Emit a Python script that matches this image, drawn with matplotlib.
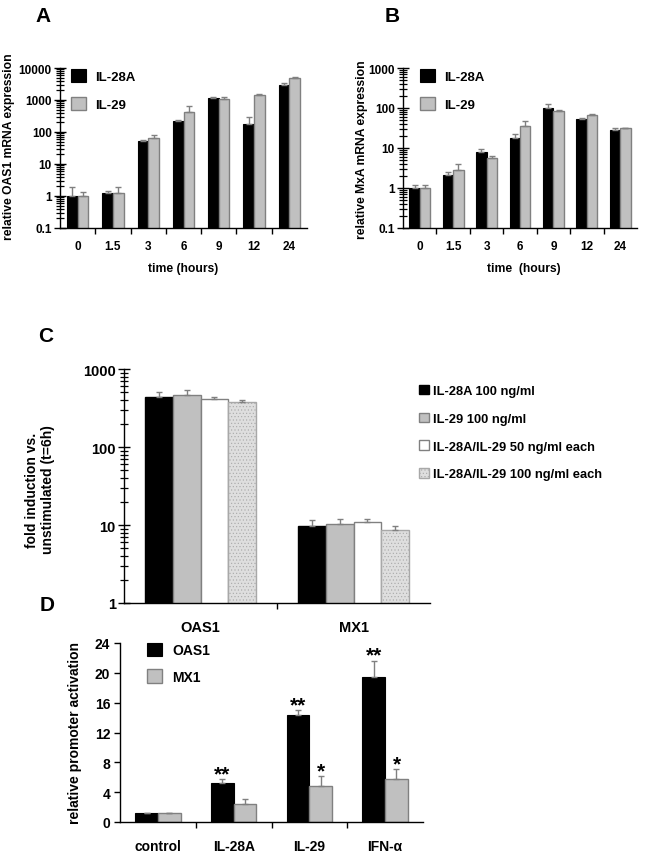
import numpy as np
import matplotlib
matplotlib.use('Agg')
import matplotlib.pyplot as plt
from matplotlib.ticker import FixedLocator, NullFormatter

# Panel A: OAS1 mRNA time course
hours = ['0', '1.5', '3', '6', '9', '12', '24']
oas1_il28a = [1.0, 1.2, 52, 224, 1140, 180, 3030]
oas1_il28a_err = [0.85, 0.2, 4, 16, 60, 105, 300]
oas1_il29 = [1.0, 1.2, 65, 415, 1085, 1440, 5030]
oas1_il29_err = [0.35, 0.75, 15, 215, 115, 140, 270]

# Panel B: MxA mRNA time course
mxa_il28a = [1.0, 2.1, 8.1, 18, 100, 52.6, 29]
mxa_il28a_err = [0.2, 0.35, 1.5, 4, 24, 2.5, 2.5]
mxa_il29 = [1.0, 2.85, 5.6, 35, 83, 67, 32]
mxa_il29_err = [0.2, 1.1, 0.7, 11, 7, 4, 0.5]

# Panel C: fold induction at t=6h
genes = ['OAS1', 'MX1']
c_labels = ['IL-28A 100 ng/ml', 'IL-29 100 ng/ml',
            'IL-28A/IL-29 50 ng/ml each', 'IL-28A/IL-29 100 ng/ml each']
c_il28a = [444, 9.8]
c_il28a_err = [67, 1.7]
c_il29 = [466, 10.2]
c_il29_err = [66, 1.7]
c_mix50 = [416, 11.0]
c_mix50_err = [28, 0.9]
c_mix100 = [375, 8.75]
c_mix100_err = [30, 0.85]

# Panel D: promoter activation
stimuli = ['control', 'IL-28A', 'IL-29', 'IFN-α']
d_oas1 = [1.15, 5.2, 14.35, 19.45]
d_oas1_err = [0.1, 0.5, 0.7, 2.2]
d_mx1 = [1.15, 2.4, 4.85, 5.75]
d_mx1_err = [0.1, 0.75, 1.35, 1.35]
d_oas1_sig = ['', '**', '**', '**']
d_mx1_sig = ['', '', '*', '*']

plt.rcParams['font.family'] = ['Liberation Sans', 'DejaVu Sans']
plt.rcParams['font.weight'] = 'bold'
plt.rcParams['hatch.linewidth'] = 0.4

W, H = 648, 854
fig = plt.figure(figsize=(W / 100, H / 100), dpi=100)


def px_axes(left, top, right, bottom):
    return fig.add_axes([left / W, 1 - bottom / H, (right - left) / W, (bottom - top) / H])


def px(x, y):
    return x / W, 1 - y / H


BLACK = '#000000'
GRAY = '#c0c0c0'
EDGE = '#808080'
ERR = '#808080'
ekw = dict(ecolor=ERR, capsize=2.5, elinewidth=1, capthick=1)


def style_axes(ax, n, fontsize, stretch=1.0):
    for s in ['top', 'right']:
        ax.spines[s].set_visible(False)
    ax.spines['left'].set_linewidth(1)
    ax.spines['bottom'].set_linewidth(1)
    ax.set_xlim(-0.5, n - 0.5)
    ax.set_xticks(np.arange(n))
    ax.xaxis.set_minor_locator(FixedLocator(np.arange(n - 1) + 0.5))
    ax.tick_params(axis='x', which='major', length=0, pad=9)
    ax.tick_params(axis='x', which='minor', length=4, direction='out', width=1)
    for lab in ax.get_xticklabels() + ax.get_yticklabels():
        lab.set_fontsize(fontsize)
        lab.set_fontweight('bold')


def log_y(ax, lo_exp, hi_exp):
    ax.set_yscale('log')
    ax.set_ylim(10.0 ** lo_exp, 10.0 ** hi_exp)
    decades = [10.0 ** e for e in range(lo_exp, hi_exp + 1)]
    ax.yaxis.set_major_locator(FixedLocator(decades))
    ax.set_yticklabels([('%g' % d) for d in decades])
    minors = [m * 10.0 ** e for e in range(lo_exp, hi_exp) for m in range(2, 10)]
    ax.yaxis.set_minor_locator(FixedLocator(minors))
    ax.yaxis.set_minor_formatter(NullFormatter())
    ax.tick_params(axis='y', which='major', length=8, direction='inout', width=1, pad=2)
    ax.tick_params(axis='y', which='minor', left=True, length=6, direction='inout', width=0.9)


def pair_bars(ax, a, a_err, b, b_err, width):
    x = np.arange(len(a))
    ax.bar(x - width / 2, a, width, color=BLACK, edgecolor=BLACK, linewidth=0.8,
           yerr=[np.zeros(len(a)), a_err], error_kw=ekw, label='IL-28A', zorder=2)
    ax.bar(x + width / 2, b, width, color=GRAY, edgecolor=EDGE, linewidth=1,
           yerr=[np.zeros(len(b)), b_err], error_kw=ekw, label='IL-29', zorder=2)


def square_legend(ax, anchor, fontsize, hsize, spacing, pad=0.7):
    return ax.legend(loc='upper left', bbox_to_anchor=px(*anchor), bbox_transform=fig.transFigure,
                     frameon=False, borderpad=0, borderaxespad=0,
                     handlelength=hsize, handleheight=hsize, handletextpad=pad,
                     labelspacing=spacing, prop=dict(weight='bold', size=fontsize))


# ---- Panel A ----
axA = px_axes(60, 69, 307, 229)
pair_bars(axA, oas1_il28a, oas1_il28a_err, oas1_il29, oas1_il29_err, 0.3)
axA.set_xticks(np.arange(len(hours)))
axA.set_xticklabels(hours)
log_y(axA, -1, 4)
style_axes(axA, len(hours), 8.5)
square_legend(axA, (71, 70), 9.5, 1.15, 1.05)
fig.text(*px(9, 147), 'relative OAS1 mRNA expression', rotation=90, ha='center', va='center',
         fontsize=8.7, fontweight='bold')
fig.text(*px(183, 269), 'time (hours)', ha='center', va='center', fontsize=8.7, fontweight='bold')
fig.text(*px(43, 17), 'A', ha='center', va='center', fontsize=15, fontweight='bold')

# ---- Panel B ----
axB = px_axes(403, 69, 637, 229)
pair_bars(axB, mxa_il28a, mxa_il28a_err, mxa_il29, mxa_il29_err, 0.31)
axB.set_xticks(np.arange(len(hours)))
axB.set_xticklabels(hours)
log_y(axB, -1, 3)
style_axes(axB, len(hours), 8.5)
square_legend(axB, (420, 70), 9.5, 1.15, 1.05)
fig.text(*px(362, 150), 'relative MxA mRNA expression', rotation=90, ha='center', va='center',
         fontsize=8.7, fontweight='bold')
fig.text(*px(524, 269), 'time  (hours)', ha='center', va='center', fontsize=8.7, fontweight='bold')
fig.text(*px(392, 17), 'B', ha='center', va='center', fontsize=15, fontweight='bold')

# ---- Panel C ----
axC = px_axes(124, 370, 430, 604)
xc = np.arange(len(genes))
wc = 0.18
c_series = [
    (c_il28a, c_il28a_err, dict(color=BLACK, edgecolor=BLACK)),
    (c_il29, c_il29_err, dict(color=GRAY, edgecolor=EDGE)),
    (c_mix50, c_mix50_err, dict(color='white', edgecolor=EDGE)),
    (c_mix100, c_mix100_err, dict(color='#dedede', edgecolor='#a8a8a8', hatch='.....')),
]
for i, (vals, errs, st) in enumerate(c_series):
    axC.bar(xc + (i - 1.5) * wc, vals, wc, linewidth=1, label=c_labels[i],
            yerr=[np.zeros(len(vals)), errs], error_kw=ekw, zorder=2, **st)
axC.set_xticks(xc)
axC.set_xticklabels(genes)
log_y(axC, 0, 3)
style_axes(axC, len(genes), 10.5)
axC.tick_params(axis='x', which='major', pad=12)
square_legend(axC, (419, 386), 9.3, 0.75, 1.2, pad=0.3)
fig.text(*px(40, 490), 'fold induction vs.\nunstimulated (t=6h)', rotation=90, ha='center',
         va='center', fontsize=10, fontweight='bold', linespacing=1.25)
fig.text(*px(46, 337), 'C', ha='center', va='center', fontsize=15, fontweight='bold')

# ---- Panel D ----
axD = px_axes(120, 644, 423, 823)
xd = np.arange(len(stimuli))
wd = 0.3
axD.bar(xd - wd / 2, d_oas1, wd, color=BLACK, edgecolor=BLACK, linewidth=0.8, label='OAS1',
        yerr=[np.zeros(len(d_oas1)), d_oas1_err], error_kw=ekw, zorder=2)
axD.bar(xd + wd / 2, d_mx1, wd, color=GRAY, edgecolor=EDGE, linewidth=1, label='MX1',
        yerr=[np.zeros(len(d_mx1)), d_mx1_err], error_kw=ekw, zorder=2)
for i in range(len(stimuli)):
    if d_oas1_sig[i]:
        axD.annotate(d_oas1_sig[i], xy=(xd[i] - wd / 2, d_oas1[i] + d_oas1_err[i]), xytext=(0, -3),
                     textcoords='offset points', ha='center', va='bottom', fontsize=15, fontweight='bold')
    if d_mx1_sig[i]:
        axD.annotate(d_mx1_sig[i], xy=(xd[i] + wd / 2, d_mx1[i] + d_mx1_err[i]), xytext=(0, -3),
                     textcoords='offset points', ha='center', va='bottom', fontsize=15, fontweight='bold')
axD.set_ylim(0, 24)
axD.set_yticks([0, 4, 8, 12, 16, 20, 24])
axD.set_xticks(xd)
axD.set_xticklabels(stimuli)
style_axes(axD, len(stimuli), 10)
axD.tick_params(axis='y', length=4, direction='out', width=1, pad=3)
axD.tick_params(axis='x', which='major', pad=12)
square_legend(axD, (147, 644), 10, 1.1, 0.85)
fig.text(*px(75, 733), 'relative promoter activation', rotation=90, ha='center', va='center',
         fontsize=10, fontweight='bold')
fig.text(*px(47, 606), 'D', ha='center', va='center', fontsize=15, fontweight='bold')

fig.savefig('out.png', dpi=100)
